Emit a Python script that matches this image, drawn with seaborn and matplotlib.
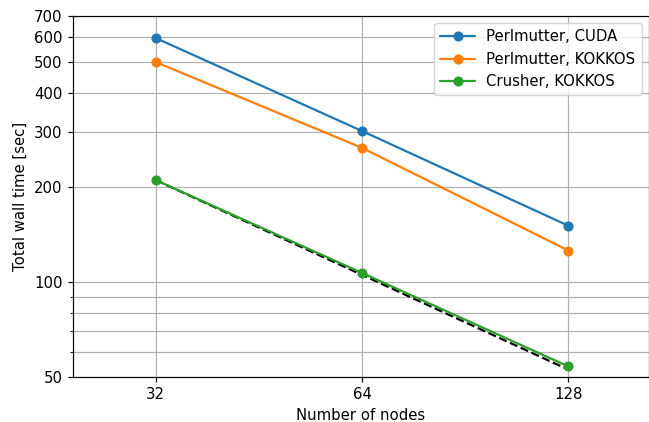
import matplotlib
matplotlib.use("Agg")
import matplotlib.pyplot as plt
import seaborn as sns
import pandas as pd
import numpy as np

nodes = [32, 64, 128]
perlmutter_cuda = [596, 302, 151]
perlmutter_kokkos = [500, 267, 126]
crusher_kokkos = [211, 107, 54]
series_names = ["Perlmutter, CUDA", "Perlmutter, KOKKOS", "Crusher, KOKKOS"]
colors = ["#1f77b4", "#ff7f0e", "#2ca02c"]
y_major = [50, 100, 200, 300, 400, 500, 600, 700]
y_minor = [60, 70, 80, 90]

sns.set_style("white")
plt.rcParams['font.family'] = ['DejaVu Sans']
plt.rcParams['text.color'] = 'black'
plt.rcParams['axes.labelcolor'] = 'black'
plt.rcParams['xtick.color'] = 'black'
plt.rcParams['ytick.color'] = 'black'

rows = []
for name, vals in zip(series_names, [perlmutter_cuda, perlmutter_kokkos, crusher_kokkos]):
    for n, v in zip(nodes, vals):
        rows.append({"nodes": n, "time": v, "series": name})
df = pd.DataFrame(rows)

DPI = 107
fig = plt.figure(figsize=(649 / DPI, 422 / DPI), dpi=DPI)
ax = fig.add_axes([73/649, 1-377/422, (649-73)/649, (377-16)/422])

ideal = [crusher_kokkos[0] * nodes[0] / n for n in nodes]
ax.plot(nodes, ideal, "k--", lw=1.5, zorder=2)

sns.lineplot(data=df, x="nodes", y="time", hue="series", hue_order=series_names,
             palette=colors, marker="o", markersize=6.8, markeredgewidth=0,
             linewidth=1.5, ax=ax, zorder=3)

ax.set_xscale("log", base=2)
ax.set_yscale("log")
ax.set_xlim(32 * 2 ** (-0.40), 128 * 2 ** 0.39)
ax.set_ylim(50, 700)
ax.set_xticks(nodes)
ax.set_xticklabels([str(n) for n in nodes])
ax.xaxis.set_minor_locator(matplotlib.ticker.NullLocator())
ax.set_yticks(y_major)
ax.set_yticklabels([str(v) for v in y_major])
ax.set_yticks(y_minor, minor=True)
ax.yaxis.set_minor_formatter(matplotlib.ticker.NullFormatter())
ax.grid(True, which="both", color="#b0b0b0", lw=0.8)
ax.tick_params(axis="both", which="major", direction="out", length=3.5, width=0.8,
               left=True, bottom=True, labelsize=10, colors="black")
ax.tick_params(axis="y", which="minor", direction="out", length=2, width=0.6, left=True,
               colors="black")
for s in ax.spines.values():
    s.set_color("black")
    s.set_linewidth(0.8)
ax.set_xlabel("Number of nodes", fontsize=10, color="black")
ax.set_ylabel("Total wall time [sec]", fontsize=10, color="black")
leg = ax.legend(loc="upper right", fontsize=10, frameon=True, handlelength=2.3)
for t in leg.get_texts():
    t.set_color("black")

fig.savefig("out.png", dpi=DPI)
